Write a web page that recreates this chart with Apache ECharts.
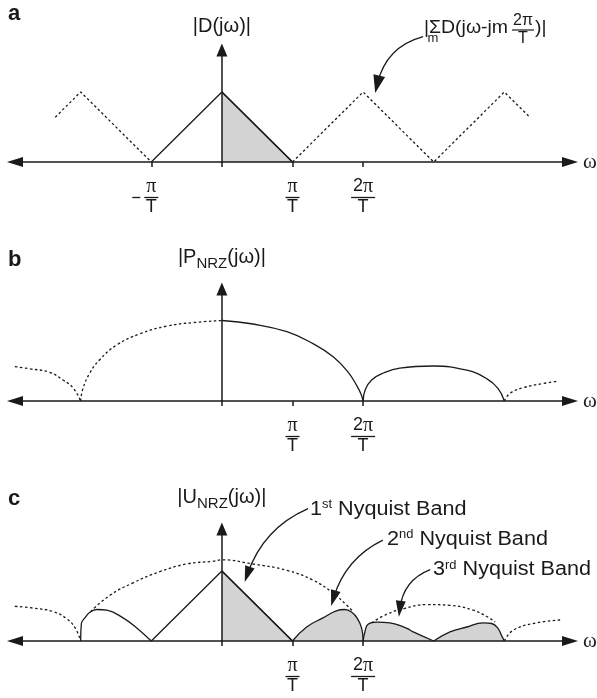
<!DOCTYPE html>
<html><head><meta charset="utf-8">
<script src="https://cdn.jsdelivr.net/npm/echarts@6/dist/echarts.min.js"></script>
<style>html,body{margin:0;padding:0;background:#fff}#c{width:597px;height:698px}</style>
</head><body><div id="c"></div>
<script>
// ---------- data (x in units of pi/T, y relative to the triangle peak) ----------
// panel a
const aTriangle = [[-1,0],[0,1],[1,0]];
const aShaded = [[0,1],[1,0]];
const aReplicaLeft = [[-2.36,0.64],[-2,1],[-1,0]];
const aReplicaRight = [[1,0],[2,1],[3,0],[4,1],[4.36,0.64]];
const aTickValues = [-1,0,1,2];
const aLabelValues = [-1,1,2];
const aLabelNums = ['−π','π','2π'];
// panel b
const bMainSolid = [[0,1.15],[0.44,1.10],[0.92,0.99],[1.29,0.82],[1.58,0.63],[1.79,0.41],[1.91,0.22],[1.97,0.1],[2,0]];
const bMainDotted = [[-2,0],[-1.97,0.17],[-1.87,0.40],[-1.73,0.59],[-1.49,0.80],[-1.16,0.96],[-0.78,1.07],[-0.41,1.12],[0,1.15]];
const bSideSolid = [[2,0],[2.03,0.16],[2.12,0.30],[2.29,0.40],[2.52,0.47],[2.99,0.50],[3.47,0.44],[3.75,0.32],[3.91,0.18],[4,0]];
const bLeftDotted = [[-3,0.50],[-2.72,0.46],[-2.44,0.41],[-2.25,0.30],[-2.11,0.19],[-2,0]];
const bRightDotted = [[4,0],[4.08,0.11],[4.27,0.19],[4.55,0.25],[4.74,0.28]];
const bTickValues = [0,1,2];
const bLabelValues = [1,2];
const bLabelNums = ['π','2π'];
// panel c
const cLeftDotted = [[-3,0.50],[-2.67,0.47],[-2.39,0.42],[-2.2,0.32],[-2.08,0.19],[-2,0]];
const cMainDotted = [[-1.86,0.42],[-1.59,0.65],[-1.26,0.83],[-0.88,0.99],[-0.5,1.10],[-0.12,1.14],[0,1.16],[0.44,1.10],[0.92,1.01],[1.29,0.87],[1.58,0.68],[1.77,0.51],[1.84,0.44]];
const cSideDotted = [[2.12,0.26],[2.33,0.38],[2.57,0.46],[2.9,0.52],[3.23,0.51],[3.56,0.44],[3.77,0.34],[3.87,0.27]];
const cRightDotted = [[4,0],[4.12,0.15],[4.41,0.25],[4.79,0.30]];
const cLeftLobe = [[-2,0],[-1.99,0.25],[-1.94,0.33],[-1.87,0.41],[-1.77,0.45],[-1.63,0.44],[-1.40,0.33],[-1.21,0.19],[-1,0]];
const cTriangle = [[-1,0],[0,1],[1,0]];
const cBand1 = [[0,1],[1,0]];
const cBand2 = [[1,0],[1.2,0.2],[1.43,0.33],[1.62,0.43],[1.74,0.45],[1.84,0.41],[1.92,0.32],[1.98,0.18],[2,0]];
const cBand3a = [[2,0],[2.03,0.15],[2.07,0.24],[2.19,0.27],[2.38,0.26],[2.62,0.18],[2.71,0.13],[3,0]];
const cBand3b = [[3,0],[3.23,0.13],[3.47,0.2],[3.70,0.26],[3.82,0.25],[3.91,0.18],[3.96,0.08],[4,0]];
const cTickValues = [0,1,2];
const cLabelValues = [1,2];
const cLabelNums = ['π','2π'];
// callout arrows [from, to] in data coordinates
const aCallout = [[2.85,1.79],[2.20,1.11]];
const cCallout1 = [[1.22,1.89],[0.36,0.95]];
const cCallout2 = [[2.28,1.44],[1.58,0.61]];
const cCallout3 = [[2.95,1.02],[2.52,0.46]];
// texts
const panelLetters = ['a','b','c'];
const yNames = ['|D(jω)|','|P{s|NRZ}(jω)|','|U{s|NRZ}(jω)|'];
const xName = 'ω';
const denom = 'T';

// ---------- styling ----------
const INK = '#1a1a1a';
const FILL = '#d2d3d2';
const SANS = 'Liberation Sans';
const SERIF = 'Liberation Serif';
const X_MIN = -2.93, X_MAX = 4.93, Y_MAX = 1.6;
const DOT = [2.5, 2.5];

const fracRich = {
  n:  {fontFamily: SERIF, fontSize: 20, color: INK, lineHeight: 19, width: 14, align: 'center'},
  n2: {fontFamily: SANS, fontSize: 18, color: INK, lineHeight: 19},
  p:  {fontFamily: SERIF, fontSize: 20, color: INK, lineHeight: 19},
  d:  {fontFamily: SANS, fontSize: 18, color: INK, lineHeight: 17, width: 14, align: 'center'},
  bar:  {backgroundColor: INK, width: 14, height: 1.3, lineHeight: 3, fontSize: 1},
  bar2: {backgroundColor: INK, width: 24, height: 1.3, lineHeight: 3, fontSize: 1},
  mb:   {backgroundColor: INK, width: 8, height: 1.3, lineHeight: 3, fontSize: 1},
  gap:  {width: 4, lineHeight: 3, fontSize: 1},
  pad:  {width: 12, lineHeight: 3, fontSize: 1}
};
function makeFormatter(vals, nums) {
  return function (v) {
    const i = vals.indexOf(v);
    if (i < 0) return '';
    let num = nums[i];
    if (num.charAt(0) === '−') {
      num = num.slice(1);
      return '{pad| }{n|' + num + '}{pad| }\n{mb| }{gap| }{bar| }{pad| }\n{pad| }{d|' + denom + '}{pad| }';
    }
    if (num.length > 1) {
      return '{n2|' + num.slice(0, -1) + '}{p|' + num.slice(-1) + '}\n{bar2| }\n{d|' + denom + '}';
    }
    return '{n|' + num + '}\n{bar| }\n{d|' + denom + '}';
  };
}

const gridTops = [50, 289, 529];
const grids = gridTops.map(t => ({left: 15, right: 27, top: t, height: 112, containLabel: false, outerBoundsMode: 'none'}));
const ticks = [aTickValues, bTickValues, cTickValues];
const labVals = [aLabelValues, bLabelValues, cLabelValues];
const labNums = [aLabelNums, bLabelNums, cLabelNums];
const nameGaps = [12, 18, 18];

const xAxes = [0,1,2].map(i => ({
  type: 'value', gridIndex: i, min: X_MIN, max: X_MAX, z: 5,
  name: xName, nameLocation: 'end', nameGap: 13,
  nameTextStyle: {fontFamily: SERIF, fontSize: 21, color: INK},
  axisLine: {show: true, onZero: true, symbol: ['triangle','triangle'], symbolSize: [10,16], lineStyle: {color: INK, width: 1.5}},
  axisTick: {show: true, customValues: ticks[i], length: 5, inside: false, lineStyle: {color: INK, width: 1.5}},
  axisLabel: {show: true, customValues: labVals[i], margin: 15, formatter: makeFormatter(labVals[i], labNums[i]), rich: fracRich},
  splitLine: {show: false}
}));
const yAxes = [0,1,2].map(i => ({
  type: 'value', gridIndex: i, min: 0, max: Y_MAX, z: 5,
  name: yNames[i], nameLocation: 'end', nameGap: nameGaps[i],
  nameTextStyle: {fontFamily: SANS, fontSize: 20, color: INK, lineHeight: 23,
    rich: {s: {fontFamily: SANS, fontSize: 15, color: INK, lineHeight: 27, verticalAlign: 'bottom'}}},
  axisLine: {show: true, onZero: true, symbol: ['none','triangle'], symbolSize: [11,13], lineStyle: {color: INK, width: 1.5}},
  axisTick: {show: false}, axisLabel: {show: false}, splitLine: {show: false}
}));

function ln(gi, data, kind, extra) {
  const s = {type: 'line', xAxisIndex: gi, yAxisIndex: gi, data: data, showSymbol: false, symbol: 'none',
    clip: false, silent: true, animation: false, z: 3,
    lineStyle: {color: INK, width: 1.3, type: kind === 'dot' ? DOT : 'solid'}};
  if (kind === 'fill') { s.areaStyle = {color: FILL, opacity: 1}; s.z = 2; }
  return Object.assign(s, extra || {});
}
const SM = {smooth: 0.45};
function callout(gi, pts, curv, size) {
  return {type: 'lines', coordinateSystem: 'cartesian2d', xAxisIndex: gi, yAxisIndex: gi, polyline: false,
    clip: false, silent: true, animation: false, z: 6,
    symbol: ['none','triangle'], symbolSize: [1, size],
    lineStyle: {color: INK, width: 1.3, opacity: 1, curveness: curv},
    data: [{coords: pts}]};
}

const series = [
  ln(0, aShaded, 'fill'),
  ln(0, aTriangle, 'solid'),
  ln(0, aReplicaLeft, 'dot'),
  ln(0, aReplicaRight, 'dot'),
  callout(0, aCallout, -0.3, [12,18]),

  ln(1, bMainSolid, 'solid', SM),
  ln(1, bSideSolid, 'solid', SM),
  ln(1, bMainDotted, 'dot', SM),
  ln(1, bLeftDotted, 'dot', SM),
  ln(1, bRightDotted, 'dot', SM),

  ln(2, cBand1, 'fill'),
  ln(2, cBand2, 'fill', SM),
  ln(2, cBand3a, 'fill', SM),
  ln(2, cBand3b, 'fill', SM),
  ln(2, cTriangle, 'solid'),
  ln(2, cLeftLobe, 'solid', SM),
  ln(2, cLeftDotted, 'dot', SM),
  ln(2, cMainDotted, 'dot', SM),
  ln(2, cSideDotted, 'dot', SM),
  ln(2, cRightDotted, 'dot', SM),
  callout(2, cCallout1, -0.22, [10,16]),
  callout(2, cCallout2, -0.22, [10,16]),
  callout(2, cCallout3, -0.3, [10,16])
];

function txt(x, y, text, size, extra, rich, sx) {
  return {type: 'text', x: x, y: y, scaleX: sx || 1, silent: true, z: 10,
    style: Object.assign({text: text, fontFamily: SANS, fontSize: size, fill: INK, align: 'left', verticalAlign: 'middle', rich: rich}, extra || {})};
}
const supRich = {s: {fontFamily: SANS, fontSize: 12, fill: INK, verticalAlign: 'top', lineHeight: 12}};
const annFrac = {
  n: {fontFamily: SANS, fontSize: 16, fill: INK, lineHeight: 15, align: 'center'},
  bar: {backgroundColor: INK, width: 22, height: 1.2, lineHeight: 3, fontSize: 1},
  d: {fontFamily: SANS, fontSize: 16, fill: INK, lineHeight: 15, align: 'center'}
};
const graphic = [
  txt(8, 14.4, panelLetters[0], 22, {fontWeight: 'bold'}),
  txt(8, 260.4, panelLetters[1], 22, {fontWeight: 'bold'}),
  txt(8, 499.4, panelLetters[2], 22, {fontWeight: 'bold'}),
  txt(424, 28.3, '|ΣD(jω-jm', 18, null, null, 1.08),
  txt(433, 38.5, 'm', 13, {align: 'center'}),
  txt(523, 30, '{n|2π}\n{bar| }\n{d|T}', 16, {align: 'center'}, annFrac),
  txt(535, 28.3, ')|', 18, null, null, 1.08),
  txt(310, 509, '1{s|st} Nyquist Band', 20, null, supRich, 1.08),
  txt(387, 539, '2{s|nd} Nyquist Band', 20, null, supRich, 1.08),
  txt(433, 569.7, '3{s|rd} Nyquist Band', 20, null, supRich, 1.08)
];

const chart = echarts.init(document.getElementById('c'), null, {renderer: 'canvas'});
chart.setOption({
  backgroundColor: '#fff', animation: false,
  grid: grids, xAxis: xAxes, yAxis: yAxes, series: series, graphic: graphic
});
</script></body></html>
